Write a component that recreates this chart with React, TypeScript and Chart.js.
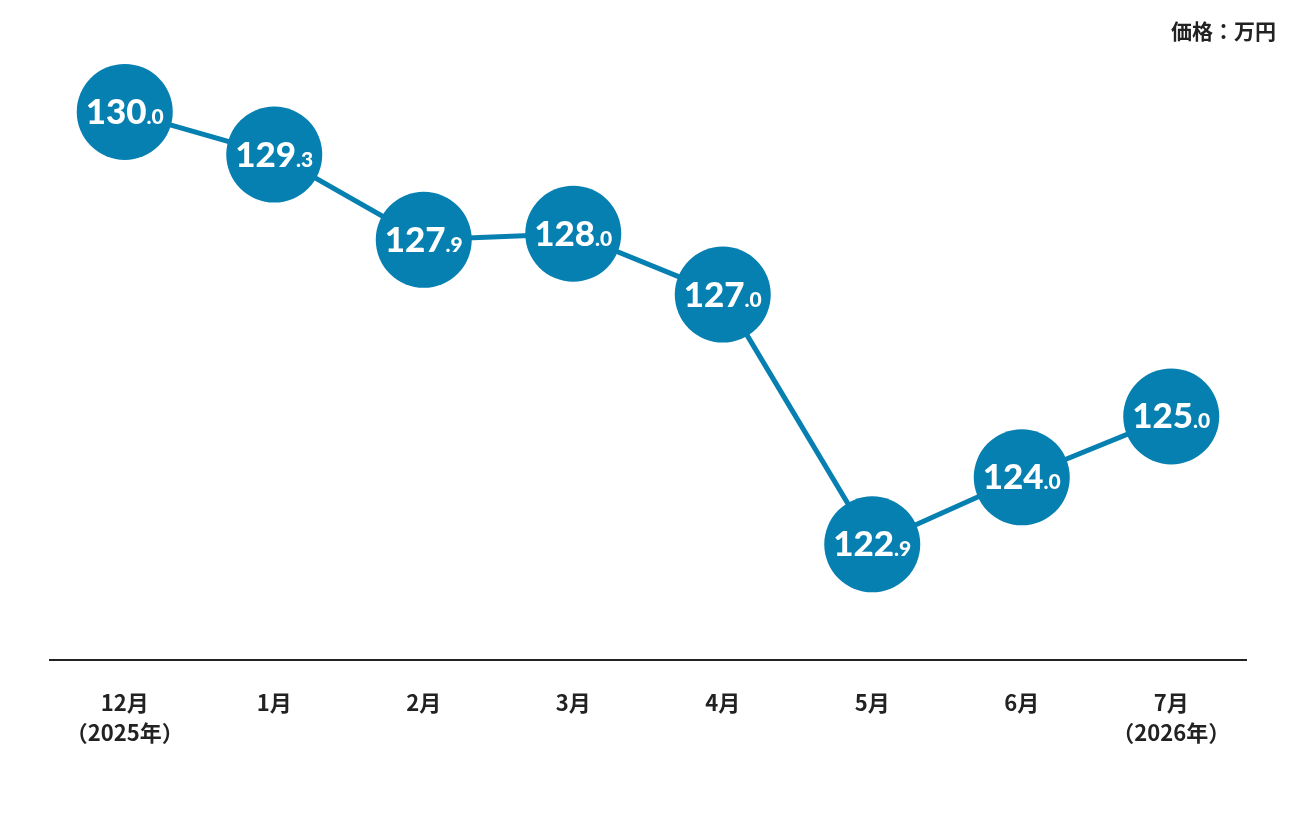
import { useEffect, useRef } from "react";
import { Chart, registerables, type Plugin } from "chart.js";

Chart.register(...registerables);

// 月ごとの価格（万円）
const MONTHS: string[][] = [
  ["12月", "（2025年）"],
  ["1月"],
  ["2月"],
  ["3月"],
  ["4月"],
  ["5月"],
  ["6月"],
  ["7月", "（2026年）"],
];
const PRICES = [130.0, 129.3, 127.9, 128.0, 127.0, 122.9, 124.0, 125.0];
const Y_MIN = 121;
const Y_MAX = 131;
const UNIT_LABEL = "価格：万円";

const BLUE = "#067fb1";
const INK = "#222222";
const JP_FONT = '"Noto Sans CJK JP", "Noto Sans", sans-serif';
const NUM_FONT = 'Lato, "Noto Sans", sans-serif';

// 円の中に「130」＋小さい「.0」を描く
const valueLabels: Plugin<"line"> = {
  id: "valueLabels",
  afterDatasetsDraw(chart) {
    const { ctx } = chart;
    const meta = chart.getDatasetMeta(0);
    ctx.save();
    ctx.fillStyle = "#ffffff";
    ctx.textBaseline = "alphabetic";
    ctx.textAlign = "left";
    meta.data.forEach((pt, i) => {
      const [whole, dec] = PRICES[i].toFixed(1).split(".");
      const big = `900 35px ${NUM_FONT}`;
      const small = `900 21px ${NUM_FONT}`;
      ctx.font = big;
      const wBig = ctx.measureText(whole).width;
      ctx.font = small;
      const wSmall = ctx.measureText("." + dec).width;
      const x0 = pt.x - (wBig + wSmall) / 2;
      const base = pt.y + 12;
      ctx.font = big;
      ctx.fillText(whole, x0, base);
      ctx.font = small;
      ctx.fillText("." + dec, x0 + wBig, base);
    });
    ctx.restore();
  },
};

const unitLabel: Plugin<"line"> = {
  id: "unitLabel",
  afterDraw(chart) {
    const { ctx } = chart;
    ctx.save();
    ctx.font = `bold 21px ${JP_FONT}`;
    ctx.fillStyle = INK;
    ctx.textAlign = "right";
    ctx.textBaseline = "middle";
    ctx.fillText(UNIT_LABEL, 1276, 31);
    ctx.restore();
  },
};

export default function App() {
  const canvasRef = useRef<HTMLCanvasElement>(null);

  useEffect(() => {
    const canvas = canvasRef.current;
    if (!canvas) return;
    const chart = new Chart(canvas, {
      type: "line",
      data: {
        labels: MONTHS,
        datasets: [
          {
            data: PRICES,
            borderColor: BLUE,
            borderWidth: 5,
            pointRadius: 48,
            pointHoverRadius: 48,
            pointBackgroundColor: BLUE,
            pointBorderWidth: 0,
            tension: 0,
            clip: false,
          },
        ],
      },
      options: {
        animation: false,
        responsive: true,
        maintainAspectRatio: false,
        events: [],
        layout: { padding: { left: 50, right: 50, top: 51, bottom: 0 } },
        plugins: { legend: { display: false }, tooltip: { enabled: false } },
        scales: {
          x: {
            offset: true,
            grid: { display: false, drawTicks: false },
            border: { display: true, color: INK, width: 2 },
            ticks: {
              color: INK,
              padding: 28,
              font: { family: JP_FONT, size: 22, weight: "bold", lineHeight: 1.35 },
              maxRotation: 0,
              autoSkip: false,
            },
            afterFit(scale) {
              scale.height = 156;
            },
          },
          y: { display: false, min: Y_MIN, max: Y_MAX },
        },
      },
      plugins: [valueLabels, unitLabel],
    });
    return () => chart.destroy();
  }, []);

  return (
    <div style={{ position: "fixed", left: 0, top: 0, width: 1296, height: 816, background: "#fff" }}>
      <canvas ref={canvasRef}></canvas>
    </div>
  );
}
